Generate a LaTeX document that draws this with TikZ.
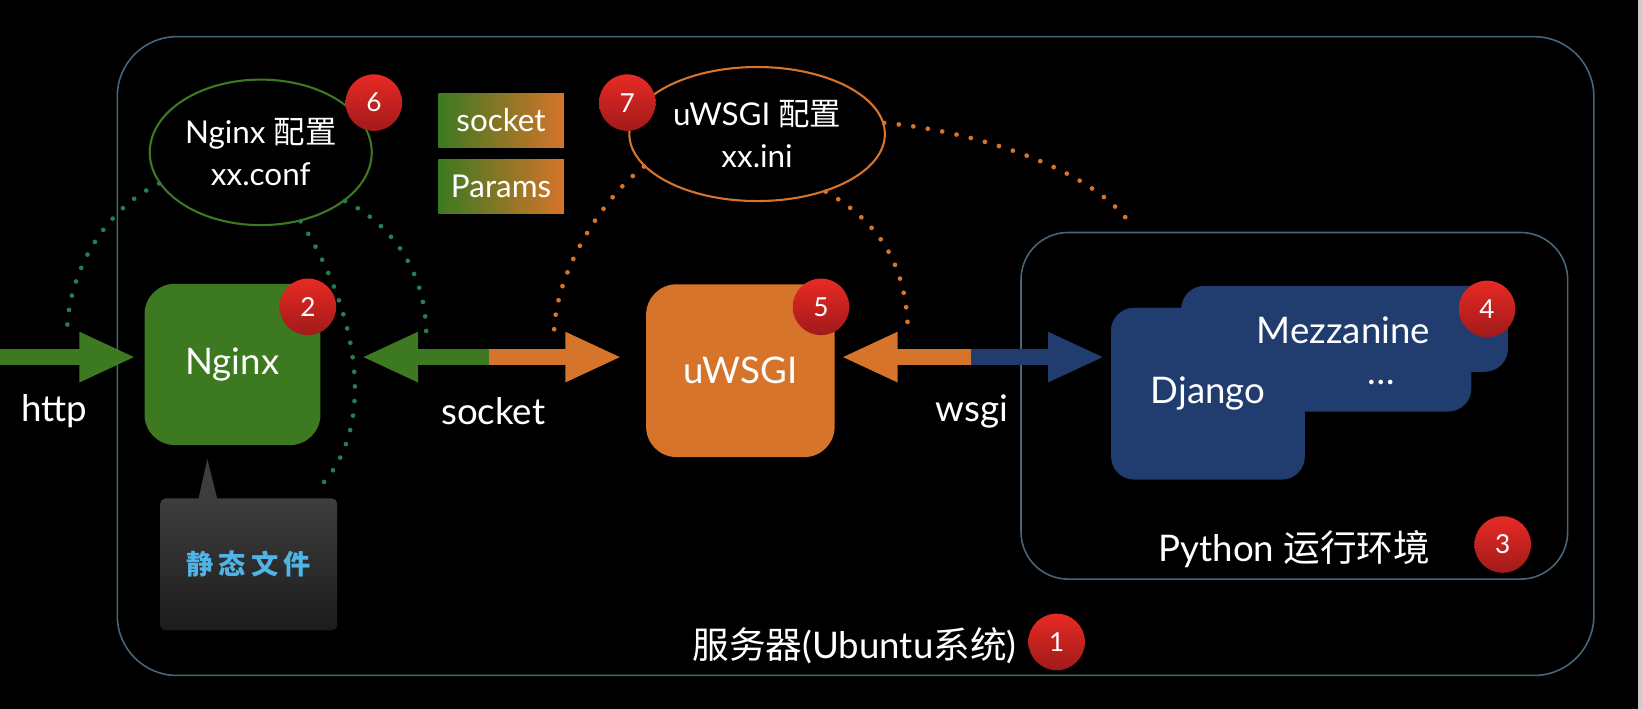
\documentclass[tikz,border=0pt]{standalone}
\usepackage{fontspec}
\setmainfont{Lato}
\newfontfamily\cjk{Noto Sans CJK SC}
\usepackage{tikz}
\usetikzlibrary{arrows.meta}
\usetikzlibrary{calc}
\usetikzlibrary{shapes}
\definecolor{color1}{RGB}{60,121,33}
\definecolor{color2}{RGB}{213,116,42}
\definecolor{color3}{RGB}{33,61,112}
\definecolor{color4}{RGB}{72,102,122}
\definecolor{color5}{RGB}{36,126,80}
\definecolor{color6}{RGB}{80,180,230}
\definecolor{color7}{RGB}{232,42,36}
\definecolor{color8}{RGB}{160,26,26}
\pgfdeclarelayer{background layer}
\pgfdeclarelayer{foreground layer}
\pgfsetlayers{background layer,main,foreground layer}
\tikzset{
  txt/.style={text=white,font=\fontsize{35}{42}\selectfont},
  cfg/.style={ellipse,draw,line width=2pt,inner sep=0pt,align=center,text=white,font=\fontsize{30}{40}\selectfont},
  service/.style={rounded corners=29pt,inner sep=0pt,text=white,font=\fontsize{35}{42}\selectfont},
  badge/.style={circle,minimum size=54pt,inner sep=0pt,top color=color7,bottom color=color8,text=white,font=\fontsize{25}{28}\selectfont},
  dots/.style={line width=4.5pt,line cap=round,dash pattern=on 0pt off 14pt},
  fat/.style={line width=16pt,-{Triangle[length=54pt,width=44pt]}},
  param/.style={minimum width=120pt,minimum height=52pt,inner sep=0pt,left color=color1,right color=color2,text=white,font=\fontsize{30}{36}\selectfont},
}
\begin{document}
\begin{tikzpicture}[x=1pt,y=-1pt]

  \useasboundingbox (0,0) rectangle (1568,677);

  % frames
  \begin{pgfonlayer}{background layer}
  \fill[black] (0,0) rectangle (1568,677);
  \fill[black!20] (1564.5,0) rectangle (1568,677);
  \draw[color4,line width=1.5pt,rounded corners=57pt] (112,35) rectangle (1522,645);
  \end{pgfonlayer}
  \node[draw=color4,line width=1.5pt,rounded corners=45pt,minimum width=522pt,minimum height=331pt] (python) at (1236,387.5) {};
  \node[txt] (pylabel) at (1236,524) {Python {\cjk 运行环境}};
  \node[txt] (server) at (816,617) {{\cjk 服务器}(Ubuntu{\cjk 系统})};

  % services
  \node[service,fill=color1,minimum width=168pt,minimum height=154pt] (nginx) at (222,348) {Nginx};
  \node[service,fill=color2,minimum width=180pt,minimum height=165pt] (uwsgi) at (707,354) {uWSGI};

  % django stack
  \fill[color3,rounded corners=22pt] (1128,273) rectangle (1440,355);
  \fill[color3,rounded corners=22pt] (1061,294) rectangle (1405,393);
  \node[service,rounded corners=22pt,fill=color3,minimum width=185pt,minimum height=164pt] (django) at (1153.5,376) {Django};
  \node[txt] (mezz) at (1283,315) {Mezzanine};
  \node[txt] (more) at (1319,365) {\ldots};

  % static files
  \node[minimum width=169pt,minimum height=126pt,rounded corners=5pt,top color=black!76,bottom color=black!89,text=color6,font=\cjk\bfseries\fontsize{26}{32}\selectfont] (static) at (237.5,539) {静\hspace{5pt}态\hspace{5pt}文\hspace{5pt}件};
  \fill[black!76] ($(static.north)+(-48,0.5)$) -- ($(nginx.south)+(-24,13)$) -- ($(static.north)+(-30,0.5)$) -- cycle;

  % config
  \node[cfg,draw=color1,minimum width=212pt,minimum height=139pt] (ncfg) at (249,145.5) {Nginx {\cjk 配置}\\xx.conf};
  \node[cfg,draw=color2,minimum width=244pt,minimum height=128pt] (ucfg) at (723,128) {uWSGI {\cjk 配置}\\xx.ini};
  \node[param] (psock) at (478.5,115) {socket};
  \node[param] (pparam) at (478.5,178) {Params};

  % arrows
  \coordinate (httpin) at (0,341);
  \coordinate (sockmid) at (467,341);
  \coordinate (wsgimid) at (927,341);
  \draw[fat,color1,shorten >=8pt] (httpin) -- (httpin -| nginx.west);
  \draw[fat,color1,shorten >=39pt] (sockmid) -- (sockmid -| nginx.east);
  \draw[fat,color2,shorten >=23pt] (sockmid) -- (sockmid -| uwsgi.west);
  \draw[fat,color2,shorten >=6pt] (wsgimid) -- (wsgimid -| uwsgi.east);
  \draw[fat,color3,shorten >=6pt] (wsgimid) -- (wsgimid -| django.west);
  \node[txt] (lhttp) at (52,393) {http};
  \node[txt] (lsock) at (471,393) {socket};
  \node[txt] (lwsgi) at (928,393) {wsgi};

  % dotted links
  \coordinate (httptop) at (64,320);
  \coordinate (socktopL) at (407,320);
  \coordinate (socktopR) at (529,321);
  \coordinate (wsgitop) at (867,321);
  \coordinate (pytop) at (1079,213);
  \draw[dots,color5] (ncfg.197) .. controls (100,200) and (64,260) .. (httptop);
  \draw[dots,color5] (ncfg.300) .. controls (335,285) and (365,400) .. ($(static.north east)+(-15,-13)$);
  \draw[dots,color5] (ncfg.330) .. controls (375,215) and (407,260) .. (socktopL);
  \draw[dots,color2] (ucfg.196) .. controls (575,190) and (529,260) .. (socktopR);
  \draw[dots,color2] (ucfg.320) .. controls (845,215) and (867,260) .. (wsgitop);
  \draw[dots,color2] (ucfg.5) .. controls (930,125) and (1040,160) .. (pytop);

  % badges
  \begin{pgfonlayer}{foreground layer}
  \foreach \n/\x/\y in {1/1009/613,2/294/293,3/1435/520,4/1420/295,5/784/293,6/357/98,7/599/98}
    \node[badge] (b\n) at (\x,\y) {\n};
  \end{pgfonlayer}

\end{tikzpicture}
\end{document}
